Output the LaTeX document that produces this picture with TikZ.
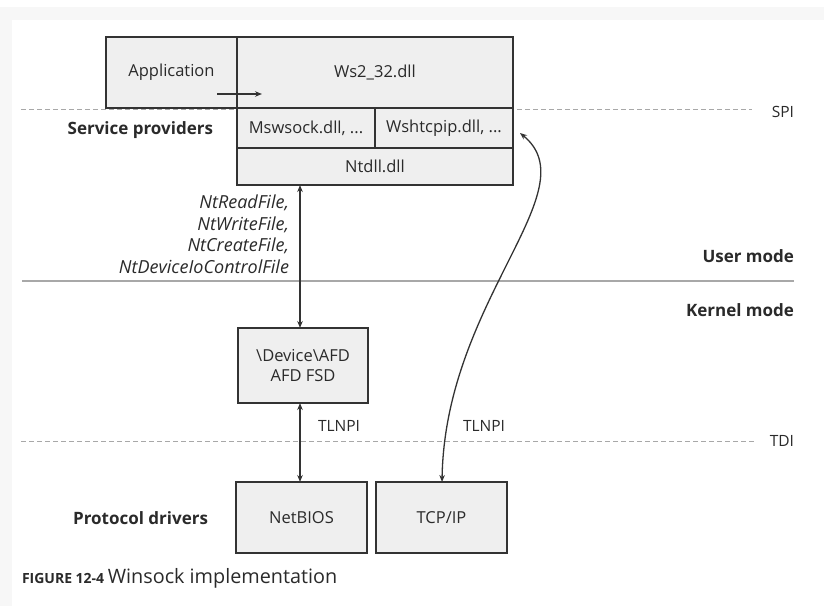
\documentclass[tikz,border=0pt]{standalone}
\usepackage{fontspec}
\setmainfont{Open Sans}
\usetikzlibrary{arrows.meta,calc}
\definecolor{boxfill}{HTML}{EFEFEF}
\definecolor{boxline}{HTML}{333333}
\definecolor{sepline}{HTML}{A8A8A8}
\definecolor{txt}{HTML}{2A2A2A}
\begin{document}
\begin{tikzpicture}[x=1pt,y=-1pt,
  every node/.style={inner sep=0pt, outer sep=0pt, text=txt},
  layerbox/.style={draw=boxline, fill=boxfill, line width=1.4pt, font=\fontsize{16.5}{20}\selectfont, align=center},
  sidelabel/.style={font=\bfseries\fontsize{17}{20}\selectfont},
  itlabel/.style={font=\itshape\fontsize{18}{21.5}\selectfont, align=right},
  plainlabel/.style={font=\fontsize{15.5}{18}\selectfont},
  dashsep/.style={draw=sepline, line width=1pt, dash pattern=on 5pt off 3pt},
  solidsep/.style={draw=sepline, line width=1.5pt},
  conn/.style={draw=boxline, line width=1.3pt, {Stealth[length=7pt,width=5.5pt]}-{Stealth[length=7pt,width=5.5pt]}},
  oneway/.style={draw=boxline, line width=1.3pt, -{Stealth[length=7pt,width=5.5pt]}}
]
\useasboundingbox (0,0) rectangle (824,606);
\fill[white] (0,0) rectangle (824,606);
\fill[black!3] (0,7) rectangle (824,20);
\fill[black!3] (0,20) rectangle (12,606);

% separators
\coordinate (spiL) at (21,109);
\coordinate (spiR) at (752,109);
\coordinate (umL) at (22,281);
\coordinate (umR) at (794,281);
\coordinate (tdiL) at (21,441);
\coordinate (tdiR) at (755,441);
\draw[dashsep] (spiL) -- (spiR);
\draw[solidsep] (umL) -- (umR);
\draw[dashsep] (tdiL) -- (tdiR);

% boxes
\node[layerbox, minimum width=131pt, minimum height=71pt] (app) at (171.5,72.5) {Application};
\node[layerbox, minimum width=276pt, minimum height=71pt] (ws2) at (375,72.5) {Ws2\_32.dll};
\node[layerbox, minimum width=138pt, minimum height=40pt] (msw) at (306,128) {Mswsock.dll, ...};
\node[layerbox, minimum width=138pt, minimum height=40pt] (wsh) at (444,128) {Wshtcpip.dll, ...};
\node[layerbox, minimum width=276pt, minimum height=37pt] (ntdll) at (375,166.5) {Ntdll.dll};
\node[layerbox, minimum width=130pt, minimum height=75pt] (afd) at (303,365.5) {\textbackslash Device\textbackslash AFD\\AFD FSD};
\node[layerbox, minimum width=131pt, minimum height=71pt] (netbios) at (301.5,517.5) {NetBIOS};
\node[layerbox, minimum width=131pt, minimum height=71pt] (tcpip) at (441.5,517.5) {TCP/IP};

% labels
\node[sidelabel, anchor=east] (sp) at (213,130) {Service providers};
\node[sidelabel, anchor=east] (pd) at (208,518) {Protocol drivers};
\node[sidelabel, anchor=east] (um) at (794,256) {User mode};
\node[sidelabel, anchor=east] (km) at (794,310) {Kernel mode};
\node[plainlabel, anchor=east] (spi) at (794,112) {SPI};
\node[plainlabel, anchor=east] (tdi) at (794,441) {TDI};
\node[itlabel, anchor=north east] (calls) at (289,195) {NtReadFile,\\NtWriteFile,\\NtCreateFile,\\NtDeviceIoControlFile};
\node[plainlabel, anchor=west] (tl1) at (318,426) {TLNPI};
\node[plainlabel, anchor=west] (tl2) at (463,426) {TLNPI};
\node[anchor=west] (cap) at (22,578) {\fontsize{14}{16}\selectfont\bfseries FIGURE 12-4\ \mdseries\fontsize{19.8}{22}\selectfont Winsock implementation};

% connectors
\coordinate (appA) at (217,94);
\coordinate (appB) at (262,94);
\draw[oneway] (appA) -- (appB);
\draw[conn] (ntdll.south -| 300,0) -- (afd.north -| 300,0);
\draw[conn] (afd.south -| 300,0) -- (netbios.north -| 300,0);
\coordinate (wshtip) at ($(wsh.east)+(7,5)$);
\draw[conn] (tcpip.north -| 442,0) .. controls (445,300) and (590,190) .. (wshtip);
\end{tikzpicture}
\end{document}
